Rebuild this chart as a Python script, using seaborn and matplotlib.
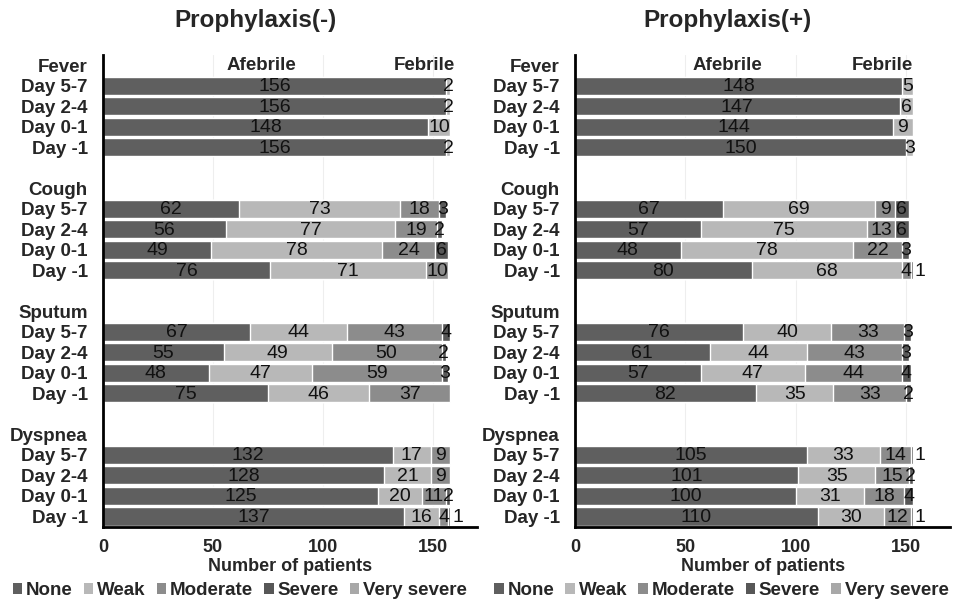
import numpy as np
import pandas as pd
import seaborn as sns
import matplotlib
matplotlib.use("Agg")
import matplotlib.pyplot as plt
from matplotlib.patches import Patch

# ---- data ----
groups = ["Fever", "Cough", "Sputum", "Dyspnea"]
days = ["Day 5-7", "Day 2-4", "Day 0-1", "Day -1"]
levels = ["None", "Weak", "Moderate", "Severe", "Very severe"]
fever_levels = ["Afebrile", "Febrile"]

minus_fever = [[156, 2], [156, 2], [148, 10], [156, 2]]
minus_cough = [[62, 73, 18, 3], [56, 77, 19, 2], [49, 78, 24, 6], [76, 71, 10]]
minus_sputum = [[67, 44, 43, 4], [55, 49, 50, 2], [48, 47, 59, 3], [75, 46, 37]]
minus_dyspnea = [[132, 17, 9], [128, 21, 9], [125, 20, 11, 2], [137, 16, 4, 1]]

plus_fever = [[148, 5], [147, 6], [144, 9], [150, 3]]
plus_cough = [[67, 69, 9, 6], [57, 75, 13, 6], [48, 78, 22, 3], [80, 68, 4, 1]]
plus_sputum = [[76, 40, 33, 3], [61, 44, 43, 3], [57, 47, 44, 4], [82, 35, 33, 2]]
plus_dyspnea = [[105, 33, 14, 1], [101, 35, 15, 2], [100, 31, 18, 4], [110, 30, 12, 1]]

level_colors = ["#5f5f5f", "#b8b8b8", "#8c8c8c", "#575757", "#a8a8a8"]
fever_colors = ["#5f5f5f", "#b6b6b6"]

sns.set_style("white")
plt.rcParams["font.family"] = ["Liberation Sans", "DejaVu Sans"]


def build_frame(fever, cough, sputum, dyspnea):
    rows = []
    for g, block in zip(groups, [fever, cough, sputum, dyspnea]):
        for d, vals in zip(days, block):
            row = {"key": g + "|" + d}
            for i in range(5):
                row["v%d" % i] = vals[i] if i < len(vals) else 0
            rows.append(row)
    df = pd.DataFrame(rows)
    cum = df[["v%d" % i for i in range(5)]].cumsum(axis=1)
    for i in range(5):
        df["c%d" % i] = cum["v%d" % i]
    return df


order, ticklabels = [], []
for gi, g in enumerate(groups):
    if gi > 0:
        order.append("blank%d" % gi)
        ticklabels.append("")
    order.append(g)
    ticklabels.append(g)
    for d in days:
        order.append(g + "|" + d)
        ticklabels.append(d)


def draw_panel(ax, df, afeb_x, feb_x, leg_x):
    is_fever = df["key"].str.startswith("Fever")
    # stacked bars: draw cumulative totals from the last level backwards
    for i in range(4, -1, -1):
        sns.barplot(data=df[~is_fever], x="c%d" % i, y="key", order=order, orient="h",
                    color=level_colors[i], saturation=1, width=0.88, ax=ax)
    for i in range(1, -1, -1):
        sns.barplot(data=df[is_fever], x="c%d" % i, y="key", order=order, orient="h",
                    color=fever_colors[i], saturation=1, width=0.88, ax=ax)

    for _, r in df.iterrows():
        y = order.index(r["key"])
        start = 0
        n = sum(1 for i in range(5) if r["v%d" % i] > 0)
        k = 0
        for i in range(5):
            v = r["v%d" % i]
            if v > 0:
                k += 1
                if v == 1 and k == n:
                    ax.text(start + v + 0.8, y + 0.05, str(int(v)), ha="left", va="center",
                            fontsize=14, color="#111111")
                else:
                    ax.text(start + v / 2, y + 0.05, str(int(v)), ha="center", va="center",
                            fontsize=14, color="#111111")
            start += v

    ax.text(afeb_x, 0, "Afebrile", ha="center", va="center", fontsize=13.5, fontweight="bold")
    ax.text(feb_x, 0, "Febrile", ha="center", va="center", fontsize=13.5, fontweight="bold")

    ax.set_xlim(0, 170)
    ax.set_ylim(len(order) - 0.5, -0.5)
    ax.set_xticks([0, 50, 100, 150])
    ax.set_xticklabels(["0", "50", "100", "150"], fontsize=13, fontweight="bold")
    ax.set_yticks(range(len(order)))
    ax.set_yticklabels(ticklabels, fontsize=13.5, fontweight="bold")
    ax.tick_params(axis="both", length=0)
    ax.tick_params(axis="y", pad=11)
    ax.tick_params(axis="x", pad=9)
    ax.set_ylabel("")
    ax.set_xlabel("Number of patients", fontsize=13, fontweight="bold", labelpad=1)
    ax.grid(axis="x", color="#eeeeee", lw=0.8)
    ax.set_axisbelow(True)
    sns.despine(ax=ax)
    for side in ["left", "bottom"]:
        ax.spines[side].set_linewidth(2)
        ax.spines[side].set_color("black")

    handles = [Patch(facecolor=c, edgecolor="none", label=l) for c, l in zip(level_colors, levels)]
    ax.legend(handles=handles, loc="center", bbox_to_anchor=(leg_x, -0.136), ncol=5,
              frameon=False, handlelength=0.5, handleheight=0.5, handletextpad=0.2,
              columnspacing=0.6, borderpad=0, borderaxespad=0,
              prop={"size": 13.5, "weight": "bold"})


fig = plt.figure(figsize=(9.63, 6.02), dpi=100)
ax_l = fig.add_axes([0.107, 0.125, 0.388, 0.784])
ax_r = fig.add_axes([0.597, 0.125, 0.390, 0.784])

draw_panel(ax_l, build_frame(minus_fever, minus_cough, minus_sputum, minus_dyspnea), 72, 146, 0.366)
draw_panel(ax_r, build_frame(plus_fever, plus_cough, plus_sputum, plus_dyspnea), 69, 139, 0.39)

fig.text(0.265, 0.966, "Prophylaxis(-)", ha="center", va="center", fontsize=17.5, fontweight="bold")
fig.text(0.755, 0.966, "Prophylaxis(+)", ha="center", va="center", fontsize=17.5, fontweight="bold")

fig.savefig("out.png", dpi=100)
